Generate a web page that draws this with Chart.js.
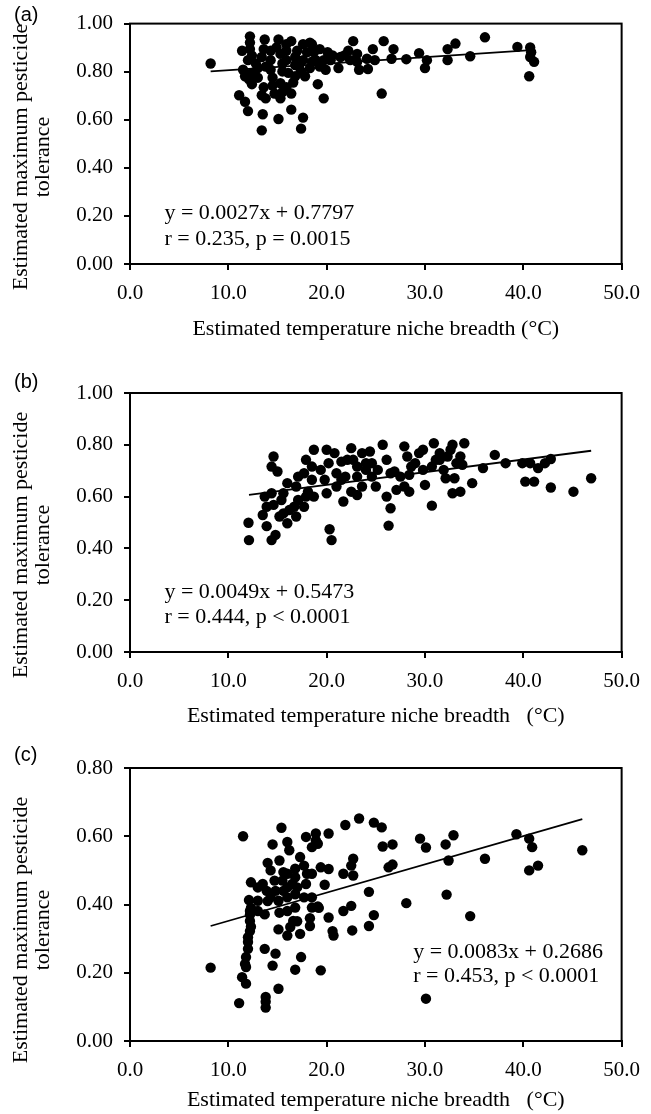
<!DOCTYPE html>
<html lang="en">
<head>
<meta charset="UTF-8">
<title>Estimated maximum pesticide tolerance vs temperature niche breadth</title>
<script src="https://cdn.jsdelivr.net/npm/chart.js"></script>
<style>
  body { margin: 0; background: #fff; }
  .panel { position: absolute; left: 0; width: 651px; }
</style>
</head>
<body>
<div class="panel" style="top:0px"><canvas id="chartA" width="651" height="345"></canvas></div>
<div class="panel" style="top:365px"><canvas id="chartB" width="651" height="365"></canvas></div>
<div class="panel" style="top:735px"><canvas id="chartC" width="651" height="379"></canvas></div>
<script>
// tick values
const xTickValues = [0, 10, 20, 30, 40, 50];
const yTicksAB = [0, 0.2, 0.4, 0.6, 0.8, 1.0];
const yTicksC = [0, 0.2, 0.4, 0.6, 0.8];

// panel (a)
const aTemp = [8.2,12.2,12.2,12.2,11.4,12.0,11.5,12.4,12.1,12.4, 11.1,11.7,12.0,13.0,13.7,13.6,13.4,13.8,13.4,13.6,
  13.5,13.4,14.3,14.5,14.7,15.1,14.9,15.3,15.5,15.1, 15.3,15.3,15.9,16.4,16.4,16.4,16.8,16.1,16.6,17.6,
  17.6,17.4,17.6,17.2,17.8,18.5,18.7,18.3,19.1,19.7, 19.3,20.1,19.9,19.7,18.9,21.2,21.4,22.2,22.7,22.4,
  23.3,23.1,24.2,24.1,24.7,24.9,25.8,25.6,26.8,26.6, 28.1,29.4,30.2,30.0,32.3,33.1,32.3,34.6,36.1,39.4,
  40.7,40.7,41.1,40.6,40.8,15.9,17.0,18.0,16.8,14.3, 15.9,17.4,18.5,19.3,20.4,21.8,14.3,14.5,16.8,20.6,
  23.1,13.8,15.5,15.9,18.3,15.5,12.8,12.4,11.7,13.0];
const aTol = [0.834,0.947,0.921,0.894,0.887,0.848,0.808,0.795,0.768,0.748, 0.702,0.675,0.636,0.775,0.934,0.894,0.861,0.821,0.702,0.735,
  0.623,0.556,0.808,0.742,0.709,0.934,0.901,0.874,0.834,0.603, 0.752,0.689,0.914,0.927,0.709,0.642,0.861,0.795,0.755,0.914,
  0.609,0.563,0.848,0.821,0.781,0.914,0.881,0.815,0.748,0.689, 0.894,0.881,0.808,0.848,0.848,0.815,0.861,0.887,0.927,0.848,
  0.808,0.841,0.811,0.854,0.894,0.848,0.927,0.709,0.894,0.854, 0.852,0.877,0.848,0.815,0.894,0.917,0.848,0.864,0.943,0.903,
  0.901,0.861,0.841,0.781,0.881,0.887,0.887,0.881,0.828,0.848, 0.848,0.801,0.841,0.821,0.848,0.868,0.887,0.775,0.781,0.868,
  0.874,0.689,0.715,0.735,0.921,0.801,0.834,0.867,0.781,0.815];
const aFitTemp = [8.2, 40.8];
const aFitTol = [0.801, 0.890];

// panel (b)
const bTemp = [12.05,12.1,13.5,13.9,14.4,14.6,14.4,15.0,14.8,14.6, 14.4,15.2,15.4,16.0,16.0,15.6,16.7,16.9,17.1,17.7,
  17.7,17.9,17.9,18.1,18.7,18.5,18.7,20.0,20.2,20.0, 20.3,20.5,20.8,21.0,21.7,21.5,22.5,22.7,22.5,23.1,
  23.1,23.6,24.4,24.6,24.0,25.0,25.7,26.1,26.3,26.5, 26.1,26.9,27.1,27.9,28.2,28.4,28.4,27.9,29.0,29.4,
  29.8,30.0,30.7,30.9,30.7,31.5,32.1,32.6,32.8,33.0, 32.8,33.6,33.6,34.0,33.8,34.8,35.9,37.1,38.2,39.9,
  40.2,41.1,41.5,42.2,42.8,42.8,45.1,46.9,40.7,31.5, 31.9,19.4,19.8,21.0,22.1,24.0,25.2,26.5,28.6,29.8,
  23.6,18.5,17.1,16.2,15.6,13.9,13.7,16.9,21.9,24.6, 27.5,31.1,33.2,32.3,21.5,23.1];
const bTol = [0.499,0.432,0.529,0.486,0.432,0.755,0.716,0.697,0.452,0.568, 0.613,0.523,0.587,0.652,0.497,0.613,0.561,0.639,0.587,0.561,
  0.690,0.742,0.600,0.619,0.781,0.716,0.600,0.781,0.729,0.613, 0.474,0.432,0.768,0.690,0.581,0.665,0.787,0.742,0.619,0.606,
  0.677,0.768,0.774,0.729,0.703,0.639,0.800,0.742,0.488,0.555, 0.600,0.697,0.626,0.794,0.755,0.619,0.684,0.639,0.729,0.768,
  0.781,0.645,0.565,0.806,0.716,0.742,0.671,0.781,0.613,0.671, 0.800,0.619,0.755,0.806,0.723,0.652,0.710,0.761,0.729,0.729,
  0.658,0.658,0.710,0.729,0.745,0.635,0.619,0.671,0.729,0.768, 0.703,0.703,0.665,0.639,0.742,0.729,0.703,0.690,0.716,0.703,
  0.639,0.665,0.677,0.548,0.535,0.561,0.600,0.523,0.677,0.677, 0.677,0.742,0.729,0.755,0.735,0.716];
const bFitTemp = [12.1, 46.9];
const bFitTol = [0.607, 0.777];

// panel (c)
const cTemp = [11.5,15.4,14.5,14.0,15.2,16.0,16.2,17.3,17.9,18.9, 19.1,20.2,21.9,23.3,24.8,25.6,25.7,26.7,26.3,26.7,
  22.7,22.5,21.7,22.7,19.4,20.2,19.8,19.1,16.8,16.0, 13.5,12.3,12.1,12.2,12.2,12.2,13.0,13.9,14.7,15.6,
  16.0,16.8,17.9,17.7,13.7,15.1,16.6,18.3,20.2,20.6, 21.7,22.5,22.6,24.3,24.3,24.8,28.1,29.5,30.1,32.1,
  32.9,32.4,32.2,34.6,36.1,39.3,40.6,40.9,40.6,41.5, 46.0,18.5,18.9,14.3,15.6,16.8,17.7,18.5,14.3,15.1,
  16.0,16.8,18.5,18.5,13.0,8.2,11.1,11.4,11.8,11.8, 12.0,12.0,12.3,13.7,13.8,13.8,13.8,14.8,14.5,15.1,
  16.8,17.4,19.4,16.0,17.3,20.7,30.1,11.7,11.8,15.2, 17.0,16.3,18.3,19.2,12.2,12.3,12.0,13.0,14.8,16.5,
  15.5,17.0,14.0,18.0,16.0];
const cTol = [0.600,0.625,0.576,0.522,0.529,0.583,0.559,0.539,0.598,0.608, 0.578,0.608,0.633,0.652,0.640,0.626,0.570,0.576,0.509,0.517,
  0.534,0.514,0.490,0.485,0.509,0.504,0.458,0.394,0.480,0.450, 0.460,0.465,0.413,0.381,0.352,0.322,0.411,0.440,0.470,0.440,
  0.421,0.430,0.460,0.421,0.371,0.327,0.352,0.337,0.362,0.322, 0.381,0.396,0.324,0.437,0.337,0.369,0.404,0.593,0.567,0.576,
  0.603,0.529,0.429,0.366,0.534,0.606,0.593,0.568,0.500,0.514, 0.559,0.391,0.588,0.500,0.495,0.505,0.514,0.490,0.421,0.411,
  0.381,0.391,0.568,0.421,0.381,0.215,0.111,0.187,0.217,0.246, 0.270,0.304,0.335,0.270,0.129,0.098,0.115,0.256,0.221,0.153,
  0.209,0.246,0.207,0.309,0.314,0.309,0.124,0.226,0.168,0.376, 0.351,0.334,0.360,0.390,0.370,0.390,0.290,0.450,0.440,0.460,
  0.470,0.450,0.410,0.490,0.490];
const cFitTemp = [8.2, 46.0];
const cFitTol = [0.337, 0.650];

const serif = '"Liberation Serif", "Times New Roman", serif';
const xTitleText = 'Estimated temperature niche breadth';

function toPoints(xs, ys) {
  return xs.map((x, i) => ({ x: x, y: ys[i] }));
}

// frame, panel letter, rotated y title and regression text
const panelDecor = {
  id: 'panelDecor',
  afterDraw(chart, args, opts) {
    const { ctx, chartArea: a, scales } = chart;
    ctx.save();
    ctx.strokeStyle = '#000';
    ctx.lineWidth = 2;
    ctx.strokeRect(a.left, a.top, a.right - a.left, a.bottom - a.top);

    ctx.fillStyle = '#000';
    ctx.textBaseline = 'middle';
    ctx.textAlign = 'left';
    ctx.font = '20px "Liberation Sans", Arial, sans-serif';
    ctx.fillText(opts.letter, 14, opts.letterY);

    ctx.font = '22px ' + serif;
    const nx = scales.x.getPixelForValue(opts.noteX);
    const ny = scales.y.getPixelForValue(opts.noteY);
    opts.note.forEach((line, i) => ctx.fillText(line, nx, ny + i * opts.noteGap));

    ctx.translate(0, opts.yTitleY);
    ctx.rotate(-Math.PI / 2);
    ctx.textAlign = 'center';
    ctx.fillText('Estimated maximum pesticide', 0, 21);
    ctx.fillText('tolerance', 0, 43);
    ctx.restore();
  }
};

function makeChart(id, cfg) {
  new Chart(document.getElementById(id), {
    type: 'scatter',
    data: {
      datasets: [{
        data: toPoints(cfg.temp, cfg.tol),
        backgroundColor: '#000',
        borderWidth: 0,
        pointRadius: 5.2,
        order: 0
      }, {
        type: 'line',
        data: toPoints(cfg.fitTemp, cfg.fitTol),
        borderColor: '#000',
        borderWidth: 1.8,
        pointRadius: 0,
        fill: false,
        order: 1
      }]
    },
    options: {
      responsive: false,
      animation: false,
      layout: { padding: { left: 0, right: 21, top: cfg.top, bottom: 0 } },
      plugins: {
        legend: { display: false },
        tooltip: { enabled: false },
        panelDecor: cfg.decor
      },
      scales: {
        x: {
          type: 'linear',
          min: 0,
          max: 50,
          afterBuildTicks: s => { s.ticks = xTickValues.map(v => ({ value: v })); },
          afterFit: s => { s.height = cfg.xAxisH; },
          ticks: { color: '#000', font: { family: serif, size: 21 }, padding: 11, maxRotation: 0, autoSkip: false,
                   callback: v => v.toFixed(1) },
          grid: { display: true, drawOnChartArea: false, drawTicks: true, tickLength: 6, color: '#000', lineWidth: 2 },
          border: { display: true, color: '#000', width: 2 },
          title: { display: true, text: cfg.xTitle, color: '#000', font: { family: serif, size: 22 },
                   padding: { top: 0, bottom: cfg.xTitlePad } }
        },
        y: {
          min: 0,
          max: cfg.yMax,
          afterBuildTicks: s => { s.ticks = cfg.yTicks.map(v => ({ value: v })); },
          afterFit: s => { s.width = 130; },
          ticks: { color: '#000', font: { family: serif, size: 21 }, padding: 11, callback: v => v.toFixed(2) },
          grid: { display: true, drawOnChartArea: false, drawTicks: true, tickLength: 6, color: '#000', lineWidth: 2 },
          border: { display: true, color: '#000', width: 2 }
        }
      }
    },
    plugins: [panelDecor]
  });
}

makeChart('chartA', {
  temp: aTemp, tol: aTol, fitTemp: aFitTemp, fitTol: aFitTol,
  top: 15, xAxisH: 81, xTitlePad: 3, yMax: 1.0, yTicks: yTicksAB,
  xTitle: xTitleText + ' (\u00B0C)',
  decor: { letter: '(a)', letterY: 15, yTitleY: 157,
           note: ['y = 0.0027x + 0.7797', 'r = 0.235, p = 0.0015'], noteX: 3.5, noteY: 0.213, noteGap: 26 }
});

makeChart('chartB', {
  temp: bTemp, tol: bTol, fitTemp: bFitTemp, fitTol: bFitTol,
  top: 28, xAxisH: 78, xTitlePad: 1, yMax: 1.0, yTicks: yTicksAB,
  xTitle: xTitleText + '   (\u00B0C)',
  decor: { letter: '(b)', letterY: 17, yTitleY: 180,
           note: ['y = 0.0049x + 0.5473', 'r = 0.444, p < 0.0001'], noteX: 3.5, noteY: 0.232, noteGap: 25 }
});

makeChart('chartC', {
  temp: cTemp, tol: cTol, fitTemp: cFitTemp, fitTol: cFitTol,
  top: 33, xAxisH: 73, xTitlePad: 1, yMax: 0.8, yTicks: yTicksC,
  xTitle: xTitleText + '   (\u00B0C)',
  decor: { letter: '(c)', letterY: 20, yTitleY: 195,
           note: ['y = 0.0083x + 0.2686', 'r = 0.453, p < 0.0001'], noteX: 28.8, noteY: 0.261, noteGap: 24 }
});
</script>
</body>
</html>
